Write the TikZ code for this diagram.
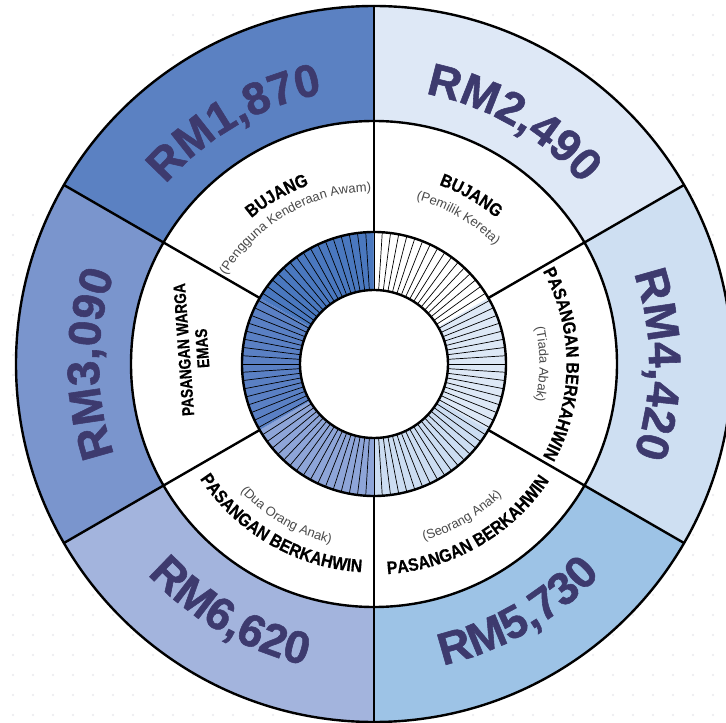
\documentclass[tikz,border=0pt]{standalone}
\usepackage{fontspec}
\setmainfont{Liberation Sans}
\newfontfamily\numfont{Liberation Sans}[BoldFeatures={FakeBold=1.2}]
\newfontfamily\lblfont{Liberation Sans}[FakeStretch=0.88,BoldFeatures={FakeBold=0.5}]
\newfontfamily\wargafont{Liberation Sans}[FakeStretch=0.8,BoldFeatures={FakeBold=0.5}]
\usetikzlibrary{decorations.text}
\definecolor{oUL}{HTML}{5B81C2}
\definecolor{oL}{HTML}{7A95CD}
\definecolor{oLL}{HTML}{A3B4DD}
\definecolor{oLR}{HTML}{9DC3E6}
\definecolor{oR}{HTML}{CEDFF2}
\definecolor{oUR}{HTML}{DEE8F6}
\definecolor{iUL}{HTML}{4A78BF}
\definecolor{iL}{HTML}{5A80C4}
\definecolor{iLL}{HTML}{8EA5D8}
\definecolor{iLR}{HTML}{CCDDF2}
\definecolor{iR}{HTML}{DDE8F6}
\definecolor{iUR}{HTML}{FFFFFF}
\definecolor{numtxt}{HTML}{3D3A6E}
\definecolor{subtxt}{HTML}{4A4A4A}
\definecolor{dotc}{HTML}{EDEDF1}
\newcommand\numfmt{\numfont\bfseries\fontsize{45.5}{45.5}\selectfont\color{numtxt}}
\newcommand\lblfmt{\lblfont\bfseries\fontsize{18}{18}\selectfont\color{black}}
\newcommand\subfmt{\fontsize{13}{13}\selectfont\color{subtxt}}
% #1 format, #2 text, #3 radius, #4 start angle, #5 end angle
\newcommand\arctext[5]{\path[decorate,decoration={text along path,text align=center,text={|#1|#2}}] (#4:#3) arc[start angle=#4,end angle=#5,radius=#3];}
\begin{document}
\begin{tikzpicture}[x=1pt,y=1pt,
  bold line/.style={line width=2.4pt,line cap=round},
  tickline/.style={line width=0.7pt}]
\useasboundingbox (-374,-359) rectangle (352,364);
% faint dotted background
\foreach \X in {173,193,...,713} \foreach \Y in {15,35,...,195} {\fill[dotc] ({\X-374},{364-\Y}) circle (1.3);}
\foreach \X in {13,33,...,713} \foreach \Y in {215,235,...,715} {\fill[dotc] ({\X-374},{364-\Y}) circle (1.3);}
% white disk
\fill[white] (0,0) circle (358);
% outer sectors
\foreach \a/\c in {90/oUL,30/oUR,-30/oR,-90/oLR,210/oLL,150/oL}{
  \fill[\c] (\a:243) arc[start angle=\a,end angle=\a+60,radius=243] -- ({\a+60}:358) arc[start angle=\a+60,end angle=\a,radius=358] -- cycle;
}
% inner ring sectors
\foreach \a/\c in {90/iUL,30/iUR,-30/iR,-90/iLR,210/iLL,150/iL}{
  \fill[\c] (\a:74) arc[start angle=\a,end angle=\a+60,radius=74] -- ({\a+60}:132) arc[start angle=\a+60,end angle=\a,radius=132] -- cycle;
}
% ticks of inner ring
\foreach \i in {0,...,99}{
  \draw[tickline] ({90-3.6*\i}:74) -- ({90-3.6*\i}:132);
}
% circles
\draw[bold line] (0,0) circle (74);
\draw[bold line] (0,0) circle (132);
\draw[bold line] (0,0) circle (243);
\draw[bold line] (0,0) circle (358);
% dividers
\foreach \a in {30,90,150,210,270,330}{
  \draw[bold line] (\a:132) -- (\a:358);
}
% outer values
\arctext{\numfmt}{RM1,870}{275}{165}{75}
\arctext{\numfmt}{RM2,490}{275}{105}{15}
\arctext{\numfmt}{RM4,420}{275}{45}{-45}
\arctext{\numfmt}{RM5,730}{309}{-105}{-15}
\arctext{\numfmt}{RM6,620}{309}{-165}{-75}
\arctext{\numfmt}{RM3,090}{275}{225}{135}
% middle labels
\arctext{\lblfmt}{BUJANG}{190.5}{165}{75}
\arctext{\subfmt}{(Pengguna Kenderaan Awam)}{172.5}{165}{75}
\arctext{\lblfmt}{BUJANG}{190.5}{105}{15}
\arctext{\subfmt}{(Pemilik Kereta)}{169.5}{105}{15}
\arctext{\lblfmt}{PASANGAN BERKAHWIN}{192.5}{45}{-45}
\arctext{\subfmt}{(Tiada Abak)}{165.5}{45}{-45}
\arctext{\lblfmt}{PASANGAN BERKAHWIN}{210.5}{-105}{-15}
\arctext{\subfmt}{(Seorang Anak)}{183.5}{-105}{-15}
\arctext{\lblfmt}{PASANGAN BERKAHWIN}{208.5}{-165}{-75}
\arctext{\subfmt}{(Dua Orang Anak)}{184.5}{-165}{-75}
\node[rotate=94,align=center,font=\wargafont\bfseries\fontsize{17}{18.5}\selectfont,inner sep=0pt] (warga) at (-181,15) {PASANGAN WARGA\\EMAS};
\end{tikzpicture}
\end{document}
